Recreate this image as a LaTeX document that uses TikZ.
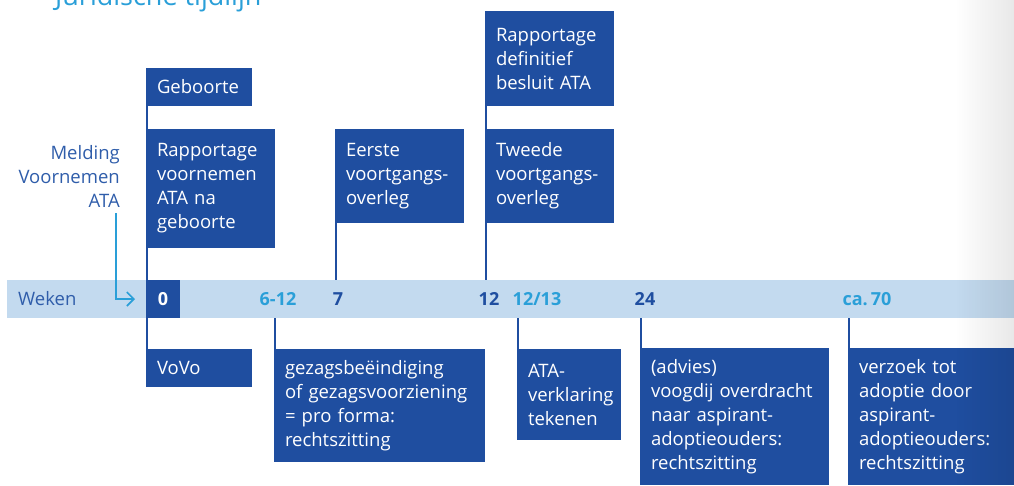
\documentclass[tikz,border=0pt]{standalone}
\usepackage{fontspec}
\setmainfont{Open Sans}
\usetikzlibrary{arrows.meta,fadings}
\definecolor{boxblue}{HTML}{1F4EA0}
\definecolor{barblue}{HTML}{C3DAEF}
\definecolor{lightblue}{HTML}{2A9FD8}
\definecolor{midblue}{HTML}{2F5DAA}
\newcommand\boxfont{\fontsize{18.5}{24}\selectfont}
\tikzset{
  evbox/.style={fill=boxblue, text=white, anchor=north west, inner xsep=11pt, inner ysep=0pt,
    outer sep=0pt, align=left, font=\boxfont},
  ticknum/.style={font=\fontsize{18}{20}\selectfont\bfseries, inner sep=0pt},
  tickline/.style={draw=boxblue, line width=2pt},
  arrowline/.style={draw=lightblue, line width=1.6pt, -{Straight Barb[length=7pt,width=14pt,line width=1.6pt]}}
}
\begin{document}
\begin{tikzpicture}[x=1pt,y=-1pt]
\useasboundingbox (0,0) rectangle (1014,485);
\clip (0,0) rectangle (1014,485);
% title (cut off at top)
\node[anchor=base west, inner sep=0pt, text=lightblue, font=\fontsize{27}{30}\selectfont] (title) at (55,5) {Juridische tijdlijn};
% timeline bar
\node[fill=barblue, anchor=north west, minimum width=1010pt, minimum height=38pt, inner sep=0pt, outer sep=0pt] (bar) at (7,280) {};
\node[anchor=west, inner sep=0pt, text=midblue, font=\boxfont] (weken) at (18,299) {Weken};
\node[fill=boxblue, anchor=north west, minimum width=34pt, minimum height=38pt, inner sep=0pt, outer sep=0pt, text=white, font=\fontsize{18}{20}\selectfont\bfseries] (t0) at (146,280) {0};
\node[ticknum, text=lightblue] (t612) at (278,299) {6-12};
\node[ticknum, text=boxblue] (t7) at (338,299) {7};
\node[ticknum, text=boxblue] (t12) at (489,299) {12};
\node[ticknum, text=lightblue] (t1213) at (537,299) {12/13};
\node[ticknum, text=boxblue] (t24) at (645,299) {24};
\node[ticknum, text=lightblue] (t70) at (867,299) {ca.\,70};
% melding
\node[anchor=east, align=right, inner sep=0pt, text=midblue, font=\boxfont] (melding) at (120,176) {Melding\\Voornemen\\ATA};
\coordinate (arrA) at (116,213);
\coordinate (arrB) at (135,299);
\draw[arrowline] (arrA) |- (arrB);
% upper boxes
\node[evbox, minimum width=106pt, minimum height=38pt, text width=84pt] (geb) at (146,68) {Geboorte};
\node[evbox, minimum width=129pt, minimum height=119pt, text width=107pt] (rapv) at (146,129) {Rapportage\\voornemen\\ATA na\\geboorte};
\node[evbox, minimum width=129pt, minimum height=94pt, text width=107pt] (eerste) at (335,129) {Eerste\\voortgangs-\\overleg};
\node[evbox, minimum width=129pt, minimum height=95pt, text width=107pt] (rapd) at (485,11) {Rapportage\\definitief\\besluit ATA};
\node[evbox, minimum width=129pt, minimum height=94pt, text width=107pt] (tweede) at (485,129) {Tweede\\voortgangs-\\overleg};
% lower boxes
\node[evbox, minimum width=106pt, minimum height=38pt, text width=84pt] (vovo) at (146,349) {VoVo};
\node[evbox, minimum width=211pt, minimum height=113pt, text width=189pt] (gezag) at (274,349) {gezagsbeëindiging\\of gezagsvoorziening\\= pro forma:\\rechtszitting};
\node[evbox, minimum width=104pt, minimum height=91pt, text width=82pt] (ata) at (517,349) {ATA-\\verklaring\\tekenen};
\node[evbox, minimum width=189pt, minimum height=137pt, text width=167pt] (advies) at (640,348) {(advies)\\voogdij overdracht\\naar aspirant-\\adoptieouders:\\rechtszitting};
\node[evbox, minimum width=175pt, minimum height=137pt, text width=153pt] (verzoek) at (848,348) {verzoek tot\\adoptie door\\aspirant-\\adoptieouders:\\rechtszitting};
% connectors
\draw[tickline] ([xshift=1pt]geb.north west) -- ([xshift=1pt]vovo.south west);
\draw[tickline] ([xshift=1pt]eerste.south west) -- ([xshift=1pt]eerste.south west |- bar.north);
\draw[tickline] ([xshift=1pt]rapd.north west) -- ([xshift=1pt]tweede.south west |- bar.north);
\draw[tickline] ([xshift=1pt]gezag.north west) -- ([xshift=1pt]gezag.north west |- bar.south);
\draw[tickline] ([xshift=1pt]ata.north west) -- ([xshift=1pt]ata.north west |- bar.south);
\draw[tickline] ([xshift=1pt]advies.north west) -- ([xshift=1pt]advies.north west |- bar.south);
\draw[tickline] ([xshift=1pt]verzoek.north west) -- ([xshift=1pt]verzoek.north west |- bar.south);
% page-fold shadow at the right edge
\fill[black, opacity=0.09, path fading=west] (955,0) rectangle (1014,485);
\end{tikzpicture}
\end{document}
